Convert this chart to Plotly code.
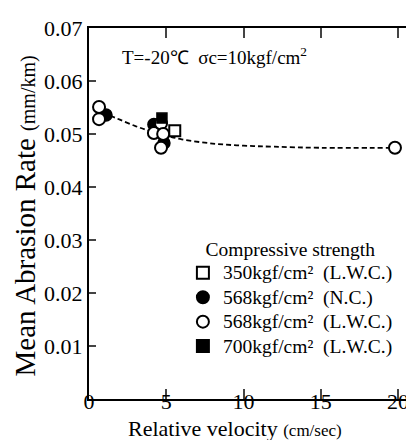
import plotly.graph_objects as go

# Data
x_350 = [5.55]
y_350 = [0.0506]

x_568nc = [1.1, 4.2, 4.85]
y_568nc = [0.0536, 0.0518, 0.0483]

x_568lwc = [0.65, 0.65, 4.2, 4.66, 4.8, 4.66, 19.8]
y_568lwc = [0.0551, 0.0528, 0.0502, 0.0520, 0.0500, 0.0474, 0.0474]

x_700 = [4.72]
y_700 = [0.0530]

curve_x = [0.9, 1.5, 2, 3, 4, 5, 6, 8, 10, 12, 15, 19.4]
curve_y = [0.0540, 0.0533, 0.0527, 0.0515, 0.0505, 0.0497, 0.0490, 0.0482, 0.0478, 0.0476, 0.0474, 0.0474]

legend_names = [
    "350kgf/cm\u00b2  (L.W.C.)",
    "568kgf/cm\u00b2  (N.C.)",
    "568kgf/cm\u00b2  (L.W.C.)",
    "700kgf/cm\u00b2  (L.W.C.)",
]

x_ticks = [0, 5, 10, 15, 20]
y_ticks = [0.00, 0.01, 0.02, 0.03, 0.04, 0.05, 0.06, 0.07]
y_tick_text = ["", "0.01", "0.02", "0.03", "0.04", "0.05", "0.06", "0.07"]

FONT = "Liberation Serif, Times New Roman, serif"


def big(s):
    return "<span style='font-size:19.5px'>" + s + "</span>"


fig = go.Figure()
fig.add_trace(go.Scatter(x=curve_x, y=curve_y, mode="lines",
                         line=dict(color="black", width=1.8, dash="5px,3px", shape="spline"),
                         showlegend=False, hoverinfo="skip"))
fig.add_trace(go.Scatter(x=x_350, y=y_350, mode="markers", name=big(legend_names[0]),
                         marker=dict(symbol="square-open", size=11, color="black", line=dict(width=2))))
fig.add_trace(go.Scatter(x=x_568nc, y=y_568nc, mode="markers", name=big(legend_names[1]),
                         marker=dict(symbol="circle", size=12, color="black", line=dict(width=1.5, color="black"))))
fig.add_trace(go.Scatter(x=x_568lwc, y=y_568lwc, mode="markers", name=big(legend_names[2]),
                         marker=dict(symbol="circle", size=12, color="white", line=dict(width=2, color="black"))))
fig.add_trace(go.Scatter(x=x_700, y=y_700, mode="markers", name=big(legend_names[3]),
                         marker=dict(symbol="square", size=10, color="black", line=dict(width=1.5, color="black"))))

fig.update_layout(
    width=414, height=440,
    margin=dict(l=81, r=0, t=20, b=49, autoexpand=False),
    paper_bgcolor="white", plot_bgcolor="white",
    font=dict(family=FONT, color="black", size=19),
    xaxis=dict(range=[0, 21.55], tickvals=x_ticks, ticks="inside", ticklen=10, tickwidth=2,
               showline=True, linecolor="black", linewidth=2, mirror="ticks", showgrid=False, zeroline=False,
               tickfont=dict(size=22, family=FONT), ticklabelstandoff=-18, automargin=False),
    yaxis=dict(range=[0, 0.07], tickvals=y_ticks, ticktext=y_tick_text, ticks="inside", ticklen=7, tickwidth=2,
               showline=True, linecolor="black", linewidth=2, showgrid=False, zeroline=False,
               tickfont=dict(size=22, family=FONT), ticklabelstandoff=0, automargin=False),
    legend=dict(x=0.282, y=0.455, xanchor="left", yanchor="top", bgcolor="rgba(0,0,0,0)",
                title=dict(text="Compressive strength", font=dict(size=19.5, family=FONT), side="top center"),
                font=dict(size=16.5, family=FONT), itemsizing="constant", tracegroupgap=0),
    annotations=[
        dict(text="T=-20\u2103  \u03c3c=10kgf/cm<sup>2</sup>", xref="paper", yref="paper",
             x=0.092, y=0.925, xanchor="left", yanchor="middle", showarrow=False,
             font=dict(size=19, family=FONT)),
        dict(text="Relative velocity <span style='font-size:17px'>(cm/sec)</span>", xref="paper", yref="paper",
             x=0.111, y=-0.08, xanchor="left", yanchor="middle", showarrow=False,
             font=dict(size=22, family=FONT)),
        dict(text="Mean Abrasion Rate <span style='font-size:20px'>(mm/km)</span>", xref="paper", yref="paper",
             x=-0.192, y=0.492, xanchor="center", yanchor="middle", textangle=-90, showarrow=False,
             font=dict(size=29, family=FONT)),
    ],
)

fig.write_html("out.html")
